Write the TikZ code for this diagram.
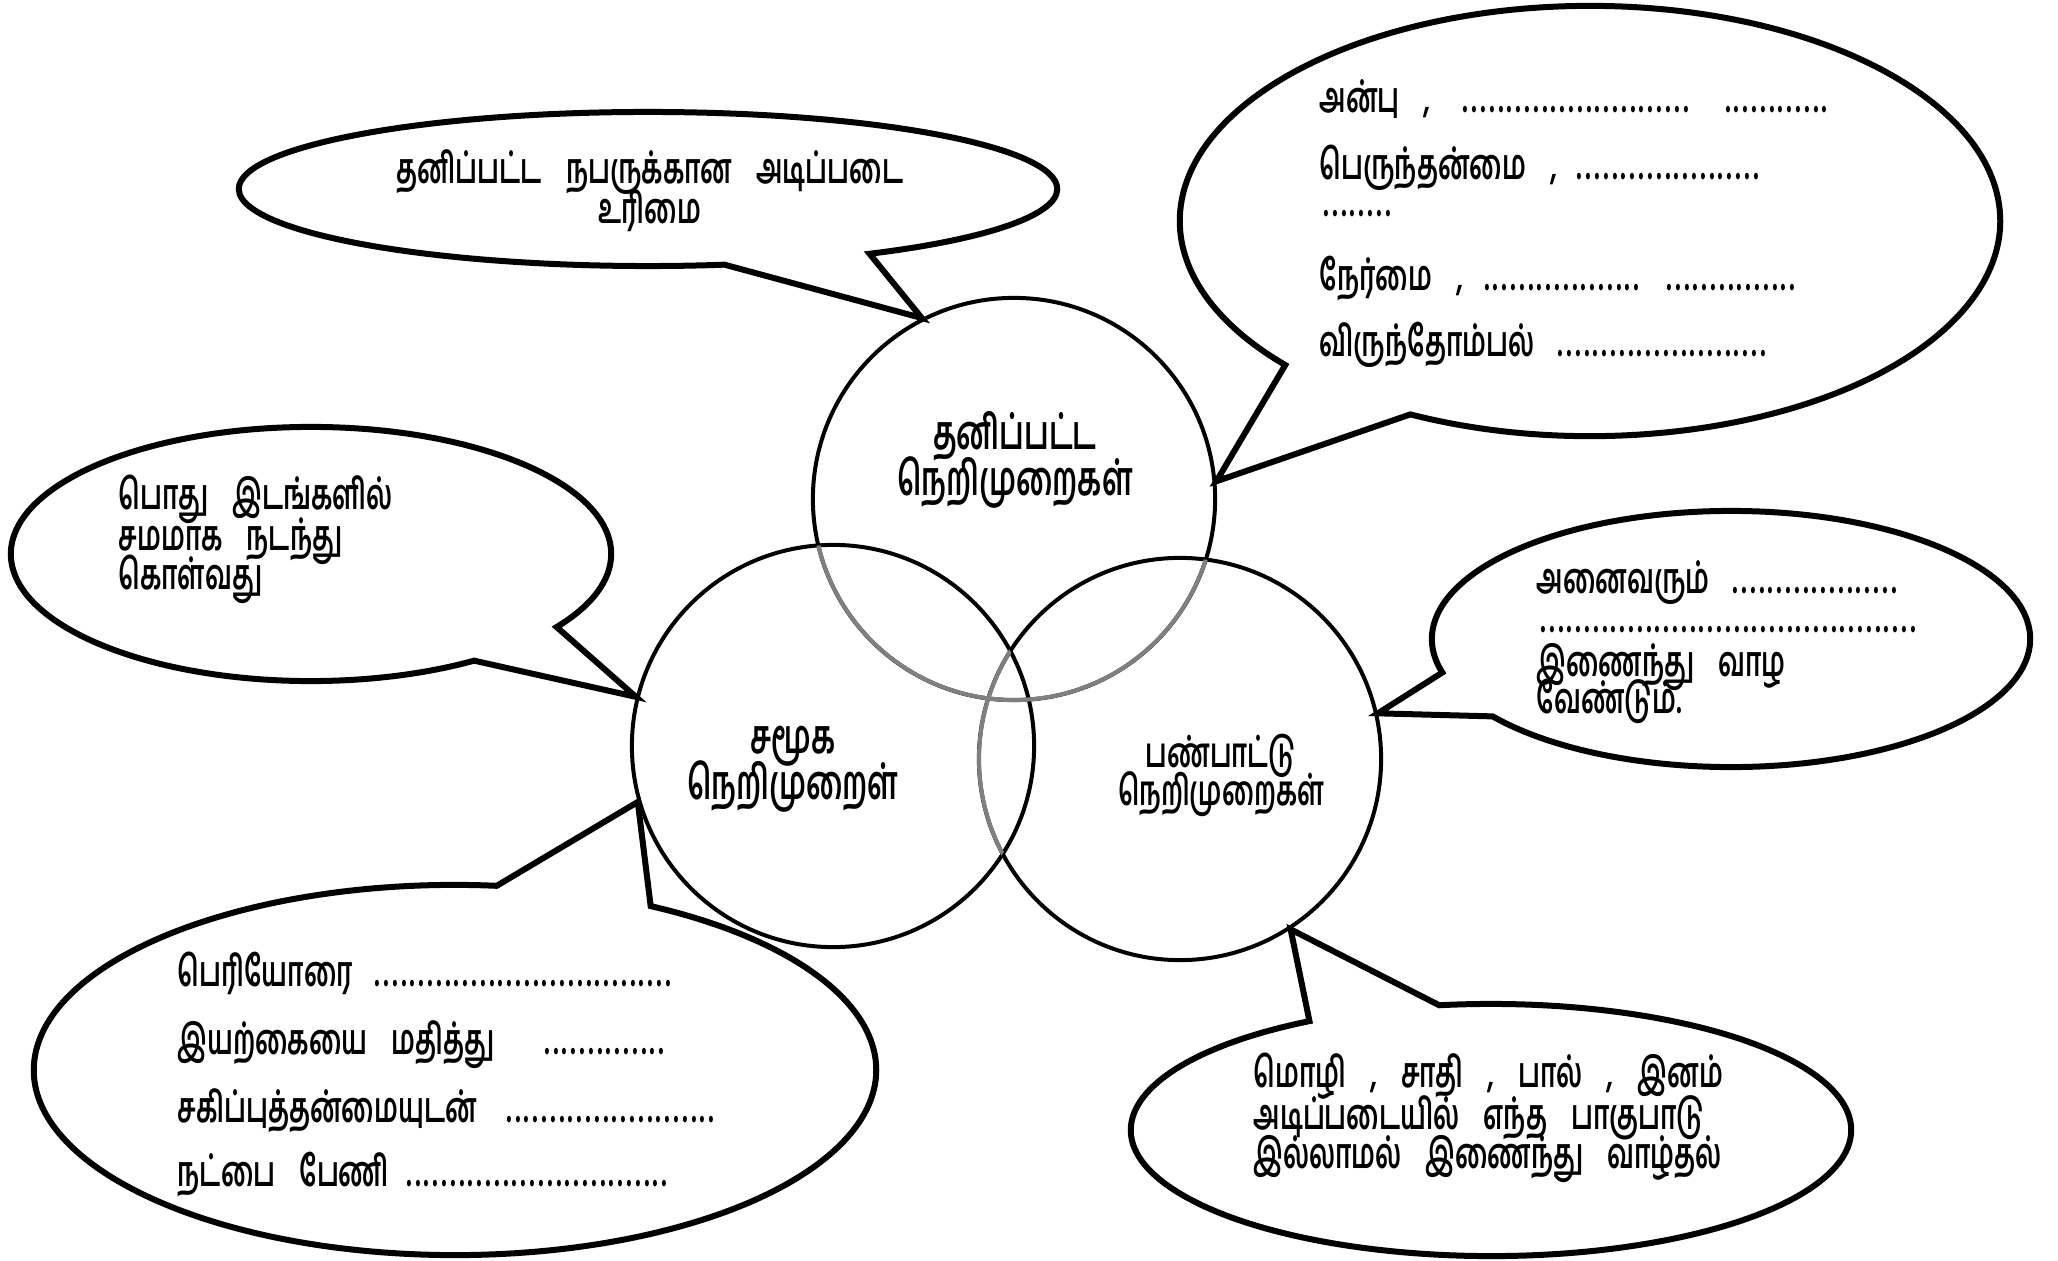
\documentclass[tikz,border=0pt]{standalone}
\usepackage{fontspec}
\usepackage{tikz}
\usetikzlibrary{shapes.callouts}
\newfontfamily\tafont[Script=Tamil,WordSpace=3.7,FakeStretch=0.62]{Hind Madurai}
\newcommand{\blank}[1]{\cleaders\hbox to 0.088cm{\hss.\hss}\hskip #1\relax\null}
\newcommand{\lead}[2]{\makebox[#1][l]{#2}}

\begin{document}
\begin{tikzpicture}[x=0.01cm, y=-0.01cm,
  ring/.style={circle, draw, line width=0.04cm, minimum size=4.02cm, inner sep=0pt},
  faint/.style={draw=black!50, line width=0.04cm},
  bubble/.style={ellipse callout, draw, line width=0.06cm, inner sep=0pt, callout pointer arc=22},
  words/.style={font=\tafont\bfseries\fontsize{12}{14}\selectfont, inner sep=0pt, anchor=mid west},
  title/.style={font=\tafont\bfseries\fontsize{13.5}{16}\selectfont, inner sep=0pt, anchor=mid}]

\useasboundingbox (0,0) rectangle (2058,1261);

\node[ring] (pers) at (1014,499) {};
\node[ring] (soc) at (833,746) {};
\node[ring] (cult) at (1180,759) {};

% overlaps in grey
\begin{scope}
\clip (soc.center) circle [radius=201];
\draw[faint] (pers.center) circle [radius=201];
\draw[faint] (cult.center) circle [radius=201];
\end{scope}
\begin{scope}
\clip (cult.center) circle [radius=201];
\draw[faint] (pers.center) circle [radius=201];
\end{scope}

\node[title] (pers-a) at (1015,442) {தனிப்பட்ட};
\node[title] (pers-b) at (1015,488) {நெறிமுறைகள்};
\node[title] (soc-a) at (793,746) {சமூக};
\node[title] (soc-b) at (793,792) {நெறிமுறைள்};
\node[title, font=\tafont\bfseries\fontsize{11.8}{14}\selectfont] (cult-a) at (1221,760) {பண்பாட்டு};
\node[title, font=\tafont\bfseries\fontsize{11.8}{14}\selectfont] (cult-b) at (1221,798) {நெறிமுறைகள்};

% callouts
\node[bubble, minimum width=8.18cm, minimum height=1.54cm, callout absolute pointer={(pers.117)}] (rights) at (648,189) {};
\node[bubble, minimum width=8.20cm, minimum height=4.30cm, callout absolute pointer={(pers.5)}] (virtue) at (1590,221) {};
\node[bubble, minimum width=6.00cm, minimum height=2.54cm, callout absolute pointer={(soc.166)}] (public) at (311,554) {};
\node[bubble, minimum width=8.42cm, minimum height=3.70cm, callout absolute pointer={(soc.196)}] (respect) at (455,1070) {};
\node[bubble, minimum width=5.98cm, minimum height=2.56cm, callout absolute pointer={(cult.13)}] (unity) at (1731,639) {};
\node[bubble, minimum width=7.20cm, minimum height=2.52cm, callout absolute pointer={(cult.-57)}] (equal) at (1491,1130) {};

\node[words, anchor=mid] (rights-1) at (650,176) {தனிப்பட்ட நபருக்கான அடிப்படை};
\node[words, anchor=mid] (rights-2) at (650,216) {உரிமை};

\foreach \y/\t [count=\i] in {
  105/{\lead{1.38cm}{அன்பு ,}\blank{2.36cm}\hspace{0.26cm}\blank{1.13cm}},
  172/{\lead{2.52cm}{பெருந்தன்மை ,}\blank{1.92cm}},
  209/{\blank{0.75cm}},
  283/{\lead{1.62cm}{நேர்மை ,}\blank{1.60cm}\hspace{0.23cm}\blank{1.32cm}},
  349/{\lead{2.34cm}{விருந்தோம்பல்}\blank{2.16cm}}}
  \node[words] (virtue-\i) at (1319,\y) {\t};

\foreach \y/\t [count=\i] in {502/{பொது இடங்களில்}, 543/{சமமாக நடந்து}, 582/{கொள்வது}}
  \node[words] (public-\i) at (118,\y) {\t};

\foreach \y/\t [count=\i] in {
  979/{\lead{1.94cm}{பெரியோரை}\blank{3.02cm}},
  1047/{\lead{3.61cm}{இயற்கையை மதித்து}\blank{1.31cm}},
  1115/{\lead{3.24cm}{சகிப்புத்தன்மையுடன்}\blank{2.17cm}},
  1179/{\lead{2.23cm}{நட்பை பேணி}\blank{2.72cm}}}
  \node[words] (respect-\i) at (177,\y) {\t};

\foreach \y/\t [count=\i] in {
  586/{\lead{1.94cm}{அனைவரும்}\blank{1.68cm}},
  625/{\blank{3.83cm}},
  669/{இணைந்து வாழ},
  706/{வேண்டும்.}}
  \node[words] (unity-\i) at (1536,\y) {\t};

\foreach \y/\t [count=\i] in {1080/{மொழி , சாதி , பால் , இனம்}, 1122/{அடிப்படையில் எந்த பாகுபாடு}, 1161/{இல்லாமல் இணைந்து வாழ்தல்}}
  \node[words] (equal-\i) at (1253,\y) {\t};
\end{tikzpicture}
\end{document}
